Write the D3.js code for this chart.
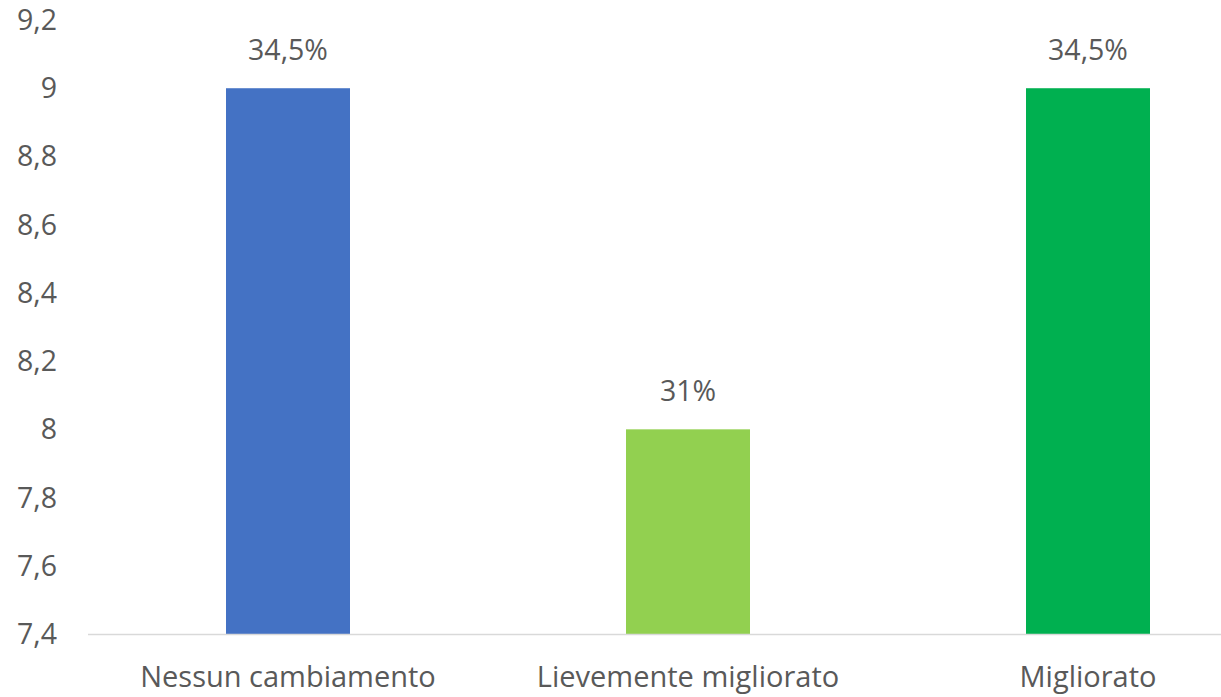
<!DOCTYPE html>
<meta charset="utf-8" />
<style>
  body { margin: 0; background: #fff; }
  text { font-family: "Open Sans", "Noto Sans", sans-serif; fill: #595959; }
</style>
<svg width="1221" height="697"></svg>
<script src="https://d3js.org/d3.v7.min.js"></script>
<script>
  var categories = ["Nessun cambiamento", "Lievemente migliorato", "Migliorato"];
  var values = [9, 8, 9];
  var labels = ["34,5%", "31%", "34,5%"];
  var colors = ["#4472C4", "#92D050", "#00B050"];
  var yTicks = [7.4, 7.6, 7.8, 8, 8.2, 8.4, 8.6, 8.8, 9, 9.2];

  var svg = d3.select("svg");
  var plotLeft = 88, plotRight = 1288, plotTop = 20, plotBottom = 634;

  var x = d3.scaleBand().domain(categories).range([plotLeft, plotRight]).paddingInner(0.69).paddingOuter(0.345);
  var y = d3.scaleLinear().domain([7.4, 9.2]).range([plotBottom, plotTop]);
  var fmt = function (d) { return String(+d.toFixed(1)).replace(".", ","); };

  // y tick labels
  svg.append("g").selectAll("text").data(yTicks).join("text")
    .attr("x", 57)
    .attr("y", function (d) { return y(d); })
    .attr("dy", "0.35em")
    .attr("text-anchor", "end")
    .style("font-size", "28.5px")
    .text(fmt);

  // bars
  svg.append("g").selectAll("rect").data(values).join("rect")
    .attr("x", function (d, i) { return x(categories[i]); })
    .attr("width", x.bandwidth())
    .attr("y", function (d) { return y(d); })
    .attr("height", function (d) { return plotBottom - y(d); })
    .attr("fill", function (d, i) { return colors[i]; });

  // baseline
  svg.append("line")
    .attr("x1", plotLeft).attr("x2", 1221)
    .attr("y1", plotBottom + 0.5).attr("y2", plotBottom + 0.5)
    .attr("stroke", "#d9d9d9").attr("stroke-width", 1.5);

  // data labels
  svg.append("g").selectAll("text").data(values).join("text")
    .attr("x", function (d, i) { return x(categories[i]) + x.bandwidth() / 2; })
    .attr("y", function (d) { return y(d) - 38; })
    .attr("dy", "0.35em")
    .attr("text-anchor", "middle")
    .style("font-size", "28.5px")
    .text(function (d, i) { return labels[i]; });

  // category labels
  svg.append("g").selectAll("text").data(categories).join("text")
    .attr("x", function (d) { return x(d) + x.bandwidth() / 2; })
    .attr("y", 677)
    .attr("dy", "0.35em")
    .attr("text-anchor", "middle")
    .style("font-size", "29px")
    .text(function (d) { return d; });
</script>
